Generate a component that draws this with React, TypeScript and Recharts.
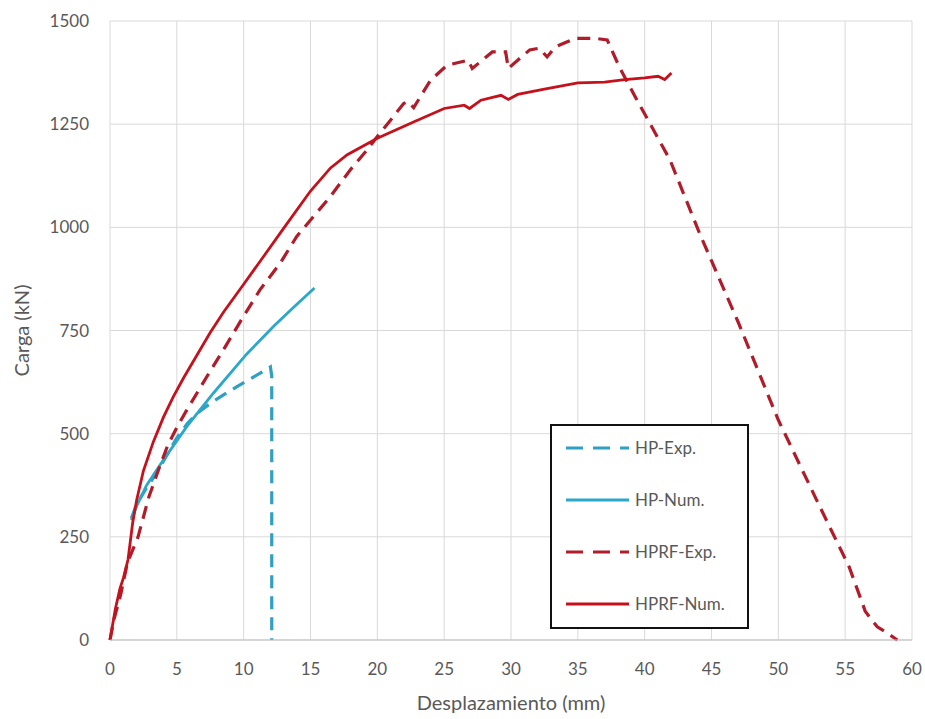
import { LineChart, Line, XAxis, YAxis, CartesianGrid } from 'recharts';

const xTicks = [0, 5, 10, 15, 20, 25, 30, 35, 40, 45, 50, 55, 60];
const yTicks = [0, 250, 500, 750, 1000, 1250, 1500];

// HP experimental (dashed blue)
const hpExpX = [1.6, 2.0, 2.8, 3.5, 4.2, 5.0, 5.8, 6.5, 7.7, 9.5, 11.2, 12.0, 12.1, 12.1];
const hpExpY = [295, 330, 372, 405, 445, 490, 525, 549, 578, 614, 646, 662, 640, 0];

// HP numerical (solid blue)
const hpNumX = [1.6, 2.0, 2.74, 3.99, 5.74, 7.73, 10.2, 12.3, 14.0, 15.3];
const hpNumY = [290, 325, 375, 436, 517, 598, 692, 762, 814, 853];

// HPRF experimental (dashed red)
const hprfExpX = [
  0, 0.3, 0.8, 1.3, 2.1, 2.9, 3.6, 4.3, 5.0, 5.74, 7.24, 8.48, 9.98, 11.23, 12.73, 13.97, 15.22, 16.47, 17.97,
  19.22, 19.97, 20.97, 21.97, 22.3, 22.72, 23.97, 25.22, 26.8, 27.1, 28.6, 29.6, 29.8, 30.5, 31.4, 32.1, 32.7,
  33.3, 34.8, 36.3, 37.2, 38.1, 39.3, 41.9, 44.1, 47.0, 50.0, 53.0, 55.3, 56.5, 57.0, 57.4, 58.0, 58.9,
];
const hprfExpY = [
  0, 50, 110, 187, 250, 346, 410, 470, 515, 557, 638, 703, 784, 849, 913, 978, 1026, 1074, 1139,
  1187, 1219, 1259, 1300, 1305, 1290, 1356, 1393, 1405, 1385, 1425, 1425, 1385, 1405, 1430, 1434, 1413,
  1437, 1458, 1458, 1454, 1389, 1316, 1163, 986, 770, 533, 330, 177, 70, 48, 32, 20, 0,
];

// HPRF numerical (solid red)
const hprfNumX = [
  0, 0.4, 0.75, 1.0, 1.35, 1.7, 2.0, 2.5, 3.24, 4.0, 4.74, 5.5, 6.5, 7.5, 8.5, 10.0, 11.5, 13.0, 15.0, 16.5,
  17.75, 20.0, 22.75, 25.0, 26.5, 26.9, 27.75, 29.25, 29.8, 30.5, 32.5, 35.0, 37.0, 38.5, 40.0, 41.0, 41.5, 42.0,
];
const hprfNumY = [
  0, 75, 125, 150, 195, 285, 340, 410, 480, 540, 590, 635, 690, 745, 795, 862, 930, 998, 1088, 1144,
  1176, 1216, 1256, 1288, 1296, 1288, 1308, 1320, 1310, 1322, 1335, 1350, 1352, 1358, 1362, 1366, 1358, 1374,
];

const toPoints = (xs: number[], ys: number[]) => xs.map((x, i) => ({ x, y: ys[i] }));

const series = [
  { name: 'HP-Exp.', data: toPoints(hpExpX, hpExpY), color: '#2f9fc2', dash: '13 8', width: 3.2 },
  { name: 'HP-Num.', data: toPoints(hpNumX, hpNumY), color: '#2aa7c9', dash: undefined, width: 2.8 },
  { name: 'HPRF-Exp.', data: toPoints(hprfExpX, hprfExpY), color: '#b01c2a', dash: '13 8', width: 3.2 },
  { name: 'HPRF-Num.', data: toPoints(hprfNumX, hprfNumY), color: '#c4111c', dash: undefined, width: 2.8 },
];

const FONT = 'Lato, "Open Sans", sans-serif';
const TEXT = '#595959';

export default function App() {
  return (
    <div style={{ position: 'absolute', left: 0, top: 0, width: 925, height: 719, background: '#fff', fontFamily: FONT }}>
      <LineChart width={925} height={719} margin={{ top: 21, right: 13, left: 0, bottom: 0 }}>
        <CartesianGrid stroke="#d9d9d9" />
        <XAxis
          type="number"
          dataKey="x"
          domain={[0, 60]}
          ticks={xTicks}
          height={79}
          tickLine={false}
          tickSize={0}
          tickMargin={23}
          axisLine={{ stroke: '#bfbfbf' }}
          tick={{ fill: TEXT, fontSize: 17, fontFamily: FONT }}
          label={{ value: 'Desplazamiento (mm)', position: 'insideBottom', offset: 9, fill: TEXT, fontSize: 20, fontFamily: FONT }}
        />
        <YAxis
          type="number"
          dataKey="y"
          domain={[0, 1500]}
          ticks={yTicks}
          width={110}
          tickLine={false}
          tickSize={0}
          tickMargin={21}
          axisLine={false}
          tick={{ fill: TEXT, fontSize: 17, fontFamily: FONT }}
          label={{
            value: 'Carga (kN)',
            angle: -90,
            position: 'insideLeft',
            offset: 22,
            fill: TEXT,
            fontSize: 20,
            fontFamily: FONT,
            style: { textAnchor: 'middle' },
          }}
        />
        {series.map((s) => (
          <Line
            key={s.name}
            data={s.data}
            dataKey="y"
            name={s.name}
            type="linear"
            stroke={s.color}
            strokeWidth={s.width}
            strokeDasharray={s.dash}
            dot={false}
            activeDot={false}
            isAnimationActive={false}
          />
        ))}
      </LineChart>
      <div
        style={{
          position: 'absolute',
          left: 550,
          top: 424,
          width: 199,
          height: 205,
          boxSizing: 'border-box',
          border: '2px solid #111',
          background: '#fff',
          paddingTop: 12,
          display: 'flex',
          flexDirection: 'column',
          gap: 32,
        }}
      >
        {series.map((s) => (
          <div key={s.name} style={{ display: 'flex', alignItems: 'center', height: 20, paddingLeft: 14 }}>
            <svg width={63} height={6} style={{ display: 'block' }}>
              <line x1={0} y1={3} x2={63} y2={3} stroke={s.color} strokeWidth={s.width} strokeDasharray={s.dash ? '17 10' : undefined} />
            </svg>
            <span style={{ marginLeft: 6, fontSize: 17, color: TEXT, lineHeight: '20px' }}>{s.name}</span>
          </div>
        ))}
      </div>
    </div>
  );
}
